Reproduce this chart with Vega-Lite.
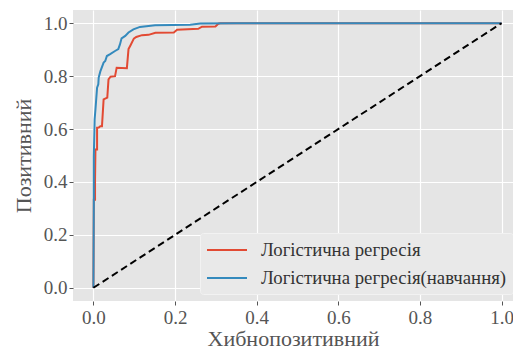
{
  "$schema": "https://vega.github.io/schema/vega-lite/v6.json",
  "width": 440,
  "height": 291,
  "autosize": {"type": "none"},
  "padding": {"left": 73, "top": 10, "right": 0, "bottom": 51},
  "background": "white",
  "config": {
    "view": {"fill": "#E5E5E5", "stroke": null},
    "font": "Liberation Serif",
    "axis": {
      "domain": false,
      "grid": true,
      "gridColor": "#FFFFFF",
      "gridWidth": 1.2,
      "tickColor": "#555555",
      "tickSize": 4,
      "tickWidth": 1,
      "labelColor": "#555555",
      "labelFont": "Liberation Serif",
      "labelFontSize": 19,
      "titleColor": "#555555",
      "titleFont": "Liberation Serif",
      "titleFontSize": 22,
      "titleFontWeight": "normal"
    },
    "legend": {
      "orient": "none",
      "legendX": 127,
      "legendY": 223,
      "padding": 6,
      "fillColor": "#E9E9E9",
      "strokeColor": "#F2F2F2",
      "cornerRadius": 3,
      "labelFont": "Liberation Serif",
      "labelFontSize": 18.8,
      "labelColor": "#333333",
      "labelLimit": 400,
      "symbolType": "M-1,0H3",
      "symbolSize": 400,
      "symbolStrokeWidth": 2,
      "symbolFillColor": "transparent",
      "labelOffset": 33,
      "rowPadding": 7
    }
  },
  "layer": [
    {
      "data": {
        "values": [
          {"s": "Логістична регресія", "o": 0, "fpr": 0.0, "tpr": 0.0},
          {"s": "Логістична регресія", "o": 1, "fpr": 0.001, "tpr": 0.333},
          {"s": "Логістична регресія", "o": 2, "fpr": 0.004, "tpr": 0.333},
          {"s": "Логістична регресія", "o": 3, "fpr": 0.004, "tpr": 0.409},
          {"s": "Логістична регресія", "o": 4, "fpr": 0.005, "tpr": 0.523},
          {"s": "Логістична регресія", "o": 5, "fpr": 0.009, "tpr": 0.523},
          {"s": "Логістична регресія", "o": 6, "fpr": 0.009, "tpr": 0.605},
          {"s": "Логістична регресія", "o": 7, "fpr": 0.013, "tpr": 0.606},
          {"s": "Логістична регресія", "o": 8, "fpr": 0.017, "tpr": 0.611},
          {"s": "Логістична регресія", "o": 9, "fpr": 0.021, "tpr": 0.611},
          {"s": "Логістична регресія", "o": 10, "fpr": 0.025, "tpr": 0.712},
          {"s": "Логістична регресія", "o": 11, "fpr": 0.034, "tpr": 0.719},
          {"s": "Логістична регресія", "o": 12, "fpr": 0.037, "tpr": 0.788},
          {"s": "Логістична регресія", "o": 13, "fpr": 0.042, "tpr": 0.798},
          {"s": "Логістична регресія", "o": 14, "fpr": 0.053, "tpr": 0.8},
          {"s": "Логістична регресія", "o": 15, "fpr": 0.057, "tpr": 0.832},
          {"s": "Логістична регресія", "o": 16, "fpr": 0.082, "tpr": 0.83},
          {"s": "Логістична регресія", "o": 17, "fpr": 0.086, "tpr": 0.902},
          {"s": "Логістична регресія", "o": 18, "fpr": 0.091, "tpr": 0.917},
          {"s": "Логістична регресія", "o": 19, "fpr": 0.099, "tpr": 0.942},
          {"s": "Логістична регресія", "o": 20, "fpr": 0.105, "tpr": 0.948},
          {"s": "Логістична регресія", "o": 21, "fpr": 0.119, "tpr": 0.955},
          {"s": "Логістична регресія", "o": 22, "fpr": 0.135, "tpr": 0.956},
          {"s": "Логістична регресія", "o": 23, "fpr": 0.152, "tpr": 0.964},
          {"s": "Логістична регресія", "o": 24, "fpr": 0.197, "tpr": 0.965},
          {"s": "Логістична регресія", "o": 25, "fpr": 0.205, "tpr": 0.975},
          {"s": "Логістична регресія", "o": 26, "fpr": 0.257, "tpr": 0.979},
          {"s": "Логістична регресія", "o": 27, "fpr": 0.266, "tpr": 0.987},
          {"s": "Логістична регресія", "o": 28, "fpr": 0.299, "tpr": 0.988},
          {"s": "Логістична регресія", "o": 29, "fpr": 0.306, "tpr": 0.998},
          {"s": "Логістична регресія", "o": 30, "fpr": 0.311, "tpr": 1.0},
          {"s": "Логістична регресія", "o": 31, "fpr": 1.0, "tpr": 1.0},
          {"s": "Логістична регресія(навчання)", "o": 0, "fpr": 0.0, "tpr": 0.0},
          {"s": "Логістична регресія(навчання)", "o": 1, "fpr": 0.001, "tpr": 0.333},
          {"s": "Логістична регресія(навчання)", "o": 2, "fpr": 0.001, "tpr": 0.496},
          {"s": "Логістична регресія(навчання)", "o": 3, "fpr": 0.003, "tpr": 0.636},
          {"s": "Логістична регресія(навчання)", "o": 4, "fpr": 0.005, "tpr": 0.674},
          {"s": "Логістична регресія(навчання)", "o": 5, "fpr": 0.009, "tpr": 0.756},
          {"s": "Логістична регресія(навчання)", "o": 6, "fpr": 0.012, "tpr": 0.769},
          {"s": "Логістична регресія(навчання)", "o": 7, "fpr": 0.013, "tpr": 0.795},
          {"s": "Логістична регресія(навчання)", "o": 8, "fpr": 0.017, "tpr": 0.818},
          {"s": "Логістична регресія(навчання)", "o": 9, "fpr": 0.025, "tpr": 0.851},
          {"s": "Логістична регресія(навчання)", "o": 10, "fpr": 0.029, "tpr": 0.857},
          {"s": "Логістична регресія(навчання)", "o": 11, "fpr": 0.033, "tpr": 0.876},
          {"s": "Логістична регресія(навчання)", "o": 12, "fpr": 0.041, "tpr": 0.883},
          {"s": "Логістична регресія(навчання)", "o": 13, "fpr": 0.053, "tpr": 0.895},
          {"s": "Логістична регресія(навчання)", "o": 14, "fpr": 0.061, "tpr": 0.902},
          {"s": "Логістична регресія(навчання)", "o": 15, "fpr": 0.065, "tpr": 0.92},
          {"s": "Логістична регресія(навчання)", "o": 16, "fpr": 0.069, "tpr": 0.943},
          {"s": "Логістична регресія(навчання)", "o": 17, "fpr": 0.078, "tpr": 0.952},
          {"s": "Логістична регресія(навчання)", "o": 18, "fpr": 0.086, "tpr": 0.965},
          {"s": "Логістична регресія(навчання)", "o": 19, "fpr": 0.098, "tpr": 0.977},
          {"s": "Логістична регресія(навчання)", "o": 20, "fpr": 0.114, "tpr": 0.986},
          {"s": "Логістична регресія(навчання)", "o": 21, "fpr": 0.151, "tpr": 0.992},
          {"s": "Логістична регресія(навчання)", "o": 22, "fpr": 0.237, "tpr": 0.994},
          {"s": "Логістична регресія(навчання)", "o": 23, "fpr": 0.262, "tpr": 0.999},
          {"s": "Логістична регресія(навчання)", "o": 24, "fpr": 0.35, "tpr": 1.0},
          {"s": "Логістична регресія(навчання)", "o": 25, "fpr": 1.0, "tpr": 1.0}
        ]
      },
      "mark": {"type": "line", "strokeWidth": 2, "clip": true},
      "encoding": {
        "x": {
          "field": "fpr", "type": "quantitative",
          "scale": {"domain": [-0.05, 1.028], "nice": false, "zero": false},
          "axis": {"values": [0, 0.2, 0.4, 0.6, 0.8, 1.0], "format": ".1f", "title": "Хибнопозитивний", "labelPadding": 3, "titlePadding": 1}
        },
        "y": {
          "field": "tpr", "type": "quantitative",
          "scale": {"domain": [-0.05, 1.05], "nice": false, "zero": false},
          "axis": {"values": [0, 0.2, 0.4, 0.6, 0.8, 1.0], "format": ".1f", "title": "Позитивний", "labelPadding": 2, "titlePadding": 8}
        },
        "color": {
          "field": "s", "type": "nominal",
          "scale": {"domain": ["Логістична регресія", "Логістична регресія(навчання)"], "range": ["#E24A33", "#348ABD"]},
          "legend": {"title": null}
        },
        "order": {"field": "o", "type": "quantitative"}
      }
    },
    {
      "data": {"values": [{"fpr": 0, "tpr": 0}, {"fpr": 1, "tpr": 1}]},
      "mark": {"type": "line", "color": "black", "strokeWidth": 2, "strokeDash": [7, 4]},
      "encoding": {
        "x": {"field": "fpr", "type": "quantitative"},
        "y": {"field": "tpr", "type": "quantitative"}
      }
    }
  ]
}
